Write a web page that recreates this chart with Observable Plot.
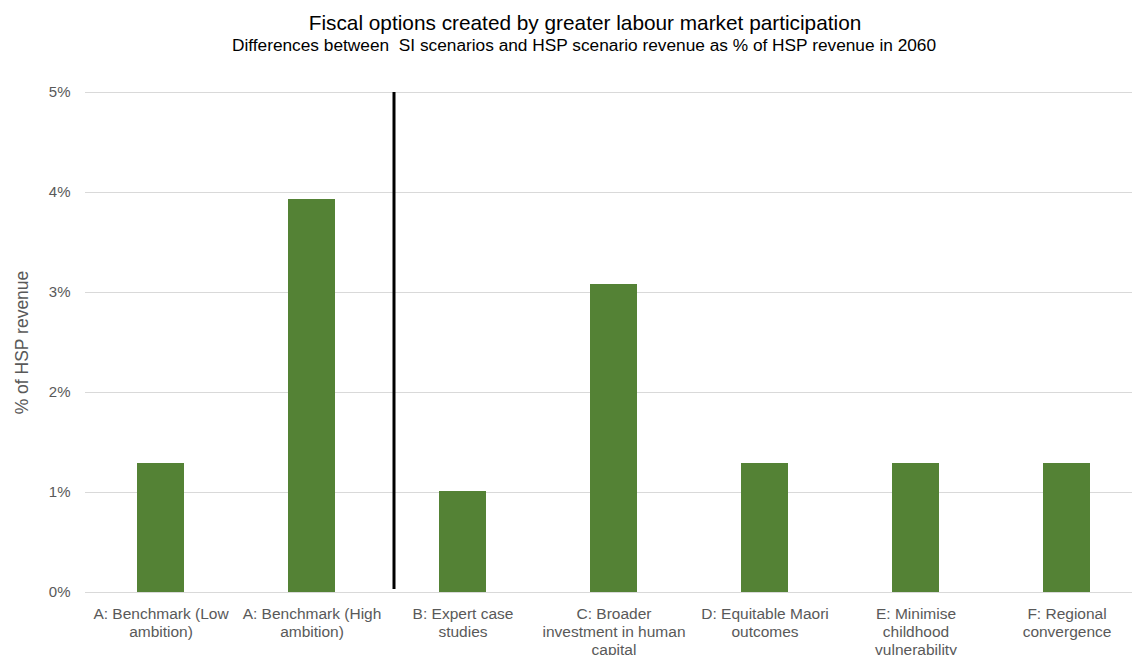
<!DOCTYPE html>
<html>
<head>
<meta charset="utf-8">
<script src="https://cdn.jsdelivr.net/npm/d3@7"></script>
<script src="https://cdn.jsdelivr.net/npm/@observablehq/plot@0.6"></script>
<style>
  html, body { margin: 0; padding: 0; background: #fff; }
  body { width: 1132px; height: 655px; overflow: hidden; font-family: "Liberation Sans", Arial, sans-serif; position: relative; }
  #title { position: absolute; left: 0; width: 1170px; top: 13px; text-align: center; font-size: 20.8px; color: #000; line-height: 20.8px; white-space: nowrap; }
  #subtitle { position: absolute; left: 0; width: 1168px; top: 37px; text-align: center; font-size: 17.3px; color: #000; line-height: 17.3px; white-space: nowrap; }
  #chart { position: absolute; left: 0; top: 60px; }
</style>
</head>
<body>
<div id="title">Fiscal options created by greater labour market participation</div>
<div id="subtitle">Differences between&nbsp; SI scenarios and HSP scenario revenue as % of HSP revenue in 2060</div>
<div id="chart"></div>
<script>
const categories = [
  "A: Benchmark (Low ambition)",
  "A: Benchmark (High ambition)",
  "B: Expert case studies",
  "C: Broader investment in human capital",
  "D: Equitable Maori outcomes",
  "E: Minimise childhood vulnerability",
  "F: Regional convergence"
];
const tickLabels = [
  "A: Benchmark (Low\nambition)",
  "A: Benchmark (High\nambition)",
  "B: Expert case\nstudies",
  "C: Broader\ninvestment in human\ncapital",
  "D: Equitable Maori\noutcomes",
  "E: Minimise\nchildhood\nvulnerability",
  "F: Regional\nconvergence"
];
const values = [1.29, 3.93, 1.01, 3.08, 1.29, 1.29, 1.29];
const yTicks = [0, 1, 2, 3, 4, 5];
const dividerAfter = ["A: Benchmark (High ambition)"];
const dividerSpan = [0.03, 5];

const data = categories.map((c, i) => ({category: c, value: values[i]}));
const labelOf = new Map(categories.map((c, i) => [c, tickLabels[i]]));

const axisColor = "#595959";
const chart = Plot.plot({
  width: 1132,
  height: 595,
  marginLeft: 85,
  marginRight: 0,
  marginTop: 32,
  marginBottom: 63,
  style: {fontFamily: "'Liberation Sans', Arial, sans-serif", background: "#fff"},
  x: {domain: categories, range: [85, 1142], paddingInner: 0.69, paddingOuter: 0.345, align: 0.5},
  y: {domain: [0, 5], ticks: yTicks},
  marks: [
    Plot.gridY(yTicks, {stroke: "#d9d9d9", strokeOpacity: 1, strokeWidth: 1}),
    Plot.barY(data, {x: "category", y: "value", fill: "#548235"}),
    Plot.ruleX(dividerAfter, {x: d => d, y1: dividerSpan[0], y2: dividerSpan[1], dx: 82, stroke: "#000", strokeWidth: 3}),
    Plot.axisY(yTicks, {
      tickSize: 0, tickPadding: 15, fontSize: 15, fill: axisColor,
      tickFormat: d => d + "%",
      label: null
    }),
    Plot.axisX({
      tickSize: 0, tickPadding: 13, fontSize: 15.5, fill: axisColor,
      tickFormat: d => labelOf.get(d), lineHeight: 1.19,
      label: null
    }),
    Plot.text(["% of HSP revenue"], {
      frameAnchor: "left", dx: -63, rotate: -90, fontSize: 17.5, fill: axisColor,
      textAnchor: "middle", text: d => d
    })
  ]
});
document.getElementById("chart").appendChild(chart);
</script>
</body>
</html>
